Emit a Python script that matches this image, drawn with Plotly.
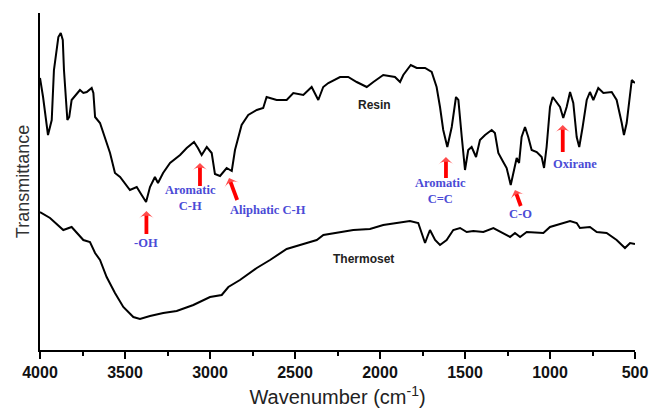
import plotly.graph_objects as go

# ---- data (wavenumber cm-1, transmittance in arbitrary units) ----
resin_wn = [4000, 3982, 3953, 3931, 3918, 3906, 3892, 3878, 3866, 3859, 3847, 3839, 3828, 3814,
            3765, 3745, 3725, 3696, 3686, 3676, 3647, 3618, 3588, 3559, 3529, 3471, 3431, 3402,
            3376, 3353, 3324, 3306, 3276, 3235, 3176, 3137, 3094, 3071, 3049, 3019, 2990, 2971,
            2941, 2902, 2872, 2853, 2834, 2814, 2775, 2725, 2687, 2667, 2608, 2549, 2510, 2451,
            2402, 2363, 2334, 2304, 2235, 2187, 2137, 2078, 2039, 1981, 1912, 1882, 1863, 1819,
            1784, 1735, 1696, 1667, 1647, 1628, 1604, 1578, 1553, 1539, 1519, 1500, 1481, 1461,
            1435, 1412, 1382, 1343, 1324, 1304, 1275, 1255, 1231, 1216, 1196, 1182, 1167, 1147,
            1128, 1108, 1078, 1049, 1035, 1020, 1000, 984, 961, 941, 922, 902, 882, 863, 843,
            828, 808, 784, 765, 745, 716, 686, 637, 608, 578, 565, 549, 529, 519, 500]
resin_t = [272, 253, 215, 230, 280, 297, 313, 317, 310, 280, 250, 230, 233, 250,
           260, 257, 258, 262, 257, 233, 227, 213, 197, 177, 173, 160, 163, 155,
           148, 163, 173, 167, 177, 187, 195, 202, 208, 202, 195, 203, 197, 176,
           174, 182, 179, 200, 213, 225, 235, 240, 242, 253, 250, 250, 257, 255,
           263, 250, 263, 267, 273, 273, 268, 263, 268, 275, 273, 268, 275, 285,
           282, 282, 278, 263, 243, 220, 203, 223, 253, 250, 213, 180, 200, 203,
           193, 210, 215, 220, 217, 197, 188, 182, 165, 177, 192, 187, 213, 223,
           213, 200, 198, 193, 182, 203, 243, 253, 248, 243, 232, 243, 258, 247, 213,
           203, 223, 250, 258, 250, 262, 257, 258, 250, 227, 215, 227, 260, 270, 267]

thermo_wn = [4000, 3941, 3863, 3814, 3745, 3706, 3676, 3647, 3608, 3559, 3510, 3451, 3412, 3353,
             3275, 3196, 3098, 3000, 2931, 2892, 2824, 2725, 2647, 2549, 2431, 2372, 2333, 2255,
             2187, 2157, 2059, 1981, 1902, 1824, 1775, 1755, 1735, 1722, 1706, 1676, 1647, 1608,
             1569, 1529, 1490, 1451, 1392, 1333, 1275, 1235, 1206, 1176, 1137, 1078, 1039, 1000,
             941, 882, 843, 824, 765, 725, 667, 608, 559, 529, 500]
thermo_t = [138, 132, 120, 123, 110, 108, 97, 90, 73, 57, 43, 33, 31, 34,
            37, 39, 45, 53, 55, 63, 70, 82, 90, 101, 107, 110, 115, 117,
            119, 120, 121, 125, 127, 129, 127, 118, 107, 113, 120, 110, 105, 110,
            120, 122, 118, 119, 118, 122, 117, 113, 117, 113, 118, 117, 117, 123,
            126, 129, 127, 122, 123, 118, 117, 110, 102, 107, 106]

x_ticks = [4000, 3500, 3000, 2500, 2000, 1500, 1000, 500]

# band annotations: (label, tip_wn, tip_t, tail_wn, tail_t, text_wn, text_t)
bands = [
    ("-OH", 3374, 139, 3374, 116, 3374, 107),
    ("Aromatic<br>C-H", 3059, 187, 3059, 164, 3112, 152),
    ("Aliphatic C-H", 2888, 172, 2840, 150, 2659, 140),
    ("Aromatic<br>C=C", 1612, 193, 1612, 172, 1647, 159),
    ("C-O", 1206, 160, 1172, 144, 1171, 136),
    ("Oxirane", 925, 225, 925, 198, 853, 186),
]
curve_labels = [("Resin", 2030, 245), ("Thermoset", 2095, 91)]

fig = go.Figure()
fig.add_trace(go.Scatter(x=resin_wn, y=resin_t, mode="lines", name="Resin",
                         line=dict(color="black", width=2)))
fig.add_trace(go.Scatter(x=thermo_wn, y=thermo_t, mode="lines", name="Thermoset",
                         line=dict(color="black", width=2)))

ann = []
for lab, tx, ty, ax, ay, lx, ly in bands:
    fig.add_trace(go.Scatter(
        x=[ax, tx], y=[ay, ty], mode="lines+markers", hoverinfo="skip",
        line=dict(color="#ff0000", width=3.8),
        marker=dict(symbol=["circle", "arrow-wide"], size=[0, 11], angleref="previous",
                    color="#ff0000", line=dict(width=0)),
    ))
    ann.append(dict(x=lx, y=ly, xref="x", yref="y", text="<b>" + lab + "</b>", showarrow=False,
                    font=dict(family="Liberation Serif", size=12.5, color="#4b4bd6"),
                    align="center"))
for lab, lx, ly in curve_labels:
    ann.append(dict(x=lx, y=ly, xref="x", yref="y", text="<b>" + lab + "</b>", showarrow=False,
                    font=dict(family="Liberation Sans", size=12, color="#222222")))

fig.update_layout(
    width=650, height=408,
    margin=dict(l=40, r=15, t=13, b=58),
    paper_bgcolor="white", plot_bgcolor="white",
    showlegend=False,
    annotations=ann,
    xaxis=dict(range=[4000, 500], tickvals=x_ticks, ticks="outside", ticklen=7, tickwidth=1.5,
               tickcolor="black", showline=True, linecolor="black", linewidth=1.5,
               showgrid=False, zeroline=False, automargin=False,
               minor=dict(dtick=250, ticks="outside", ticklen=4, tickcolor="black", tickwidth=1.5),
               tickfont=dict(family="Liberation Sans", size=16, color="#111111", weight="bold"),
               title=dict(text="Wavenumber (cm<sup>-1</sup>)", standoff=10,
                          font=dict(family="Liberation Sans", size=20, color="#222222"))),
    yaxis=dict(range=[0, 337], showline=True, linecolor="black", linewidth=1.5,
               showticklabels=False, ticks="", showgrid=False, zeroline=False, automargin=False,
               title=dict(text="Transmittance", standoff=4,
                          font=dict(family="Liberation Sans", size=18, color="#333333"))),
)

fig.write_html("out.html")
